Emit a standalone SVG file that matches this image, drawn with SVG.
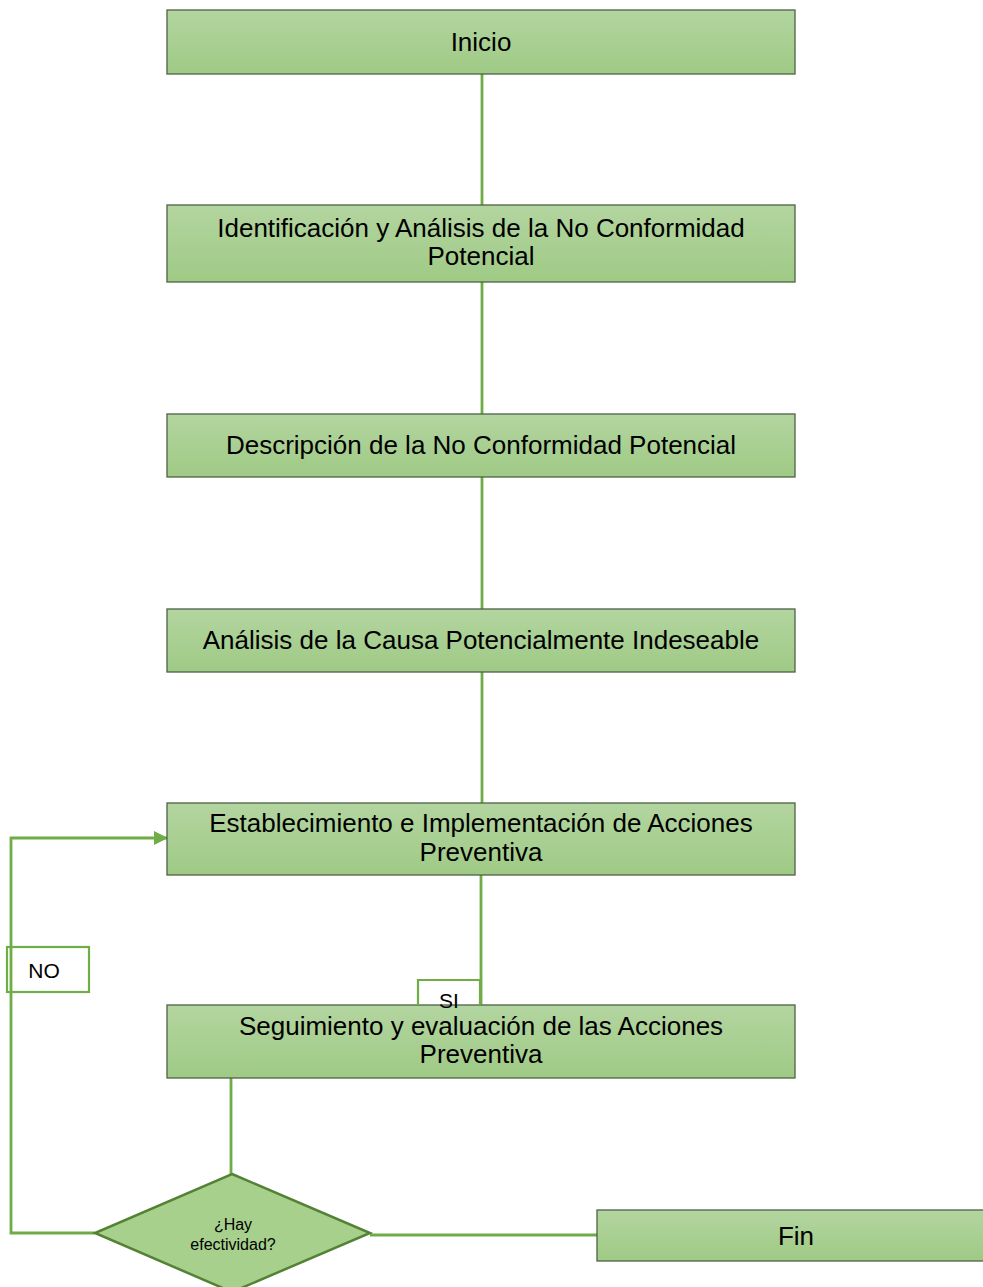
<svg xmlns="http://www.w3.org/2000/svg" width="983" height="1287" viewBox="0 0 983 1287">
  <defs>
    <linearGradient id="boxFill" x1="0" y1="0" x2="0" y2="1">
      <stop offset="0" stop-color="#b3d5a0"/>
      <stop offset="1" stop-color="#9fca85"/>
    </linearGradient>
    <marker id="arrow" markerWidth="14" markerHeight="14" refX="13" refY="7" orient="auto" markerUnits="userSpaceOnUse">
      <path d="M0,0 L14,7 L0,14 z" fill="#70ad47"/>
    </marker>
    <style>
      .box { fill: url(#boxFill); stroke: #4f6145; stroke-width: 1.3; }
      .dec { fill: #a7d08c; stroke: #538135; stroke-width: 2.5; }
      .conn { fill: none; stroke: #6fac46; stroke-width: 2.8; }
      .lbl { fill: none; stroke: #70ad47; stroke-width: 2.2; }
      .t { font-family: "Liberation Sans", Arial, sans-serif; font-size: 26px; fill: #000; text-anchor: middle; }
      .ts { font-family: "Liberation Sans", Arial, sans-serif; font-size: 16px; fill: #000; text-anchor: middle; }
      .tl { font-family: "Liberation Sans", Arial, sans-serif; font-size: 21px; fill: #000; text-anchor: middle; }
    </style>
  </defs>
  <rect width="983" height="1287" fill="#fff"/>

  <!-- connectors -->
  <g id="connectors">
    <line class="conn" x1="482" y1="74" x2="482" y2="205"/>
    <line class="conn" x1="482" y1="282" x2="482" y2="414"/>
    <line class="conn" x1="482" y1="477" x2="482" y2="609"/>
    <line class="conn" x1="482" y1="672" x2="482" y2="803"/>
    <line class="conn" x1="481" y1="875" x2="481" y2="1005"/>
    <line class="conn" x1="231" y1="1078" x2="231" y2="1174"/>
    <polyline class="conn" points="95,1233 11,1233 11,838 167,838" marker-end="url(#arrow)"/>
    <line class="conn" x1="370" y1="1235" x2="597" y2="1235"/>
  </g>

  <g id="node-inicio">
    <rect class="box" x="167" y="10" width="628" height="64"/>
    <text class="t" x="481" y="51">Inicio</text>
  </g>
  <g id="node-identificacion">
    <rect class="box" x="167" y="205" width="628" height="77"/>
    <text class="t" x="481" y="237">Identificación y Análisis de la No Conformidad</text>
    <text class="t" x="481" y="265">Potencial</text>
  </g>
  <g id="node-descripcion">
    <rect class="box" x="167" y="414" width="628" height="63"/>
    <text class="t" x="481" y="454">Descripción de la No Conformidad Potencial</text>
  </g>
  <g id="node-analisis">
    <rect class="box" x="167" y="609" width="628" height="63"/>
    <text class="t" x="481" y="649">Análisis de la Causa Potencialmente Indeseable</text>
  </g>
  <g id="node-establecimiento">
    <rect class="box" x="167" y="803" width="628" height="72"/>
    <text class="t" x="481" y="832">Establecimiento e Implementación de Acciones</text>
    <text class="t" x="481" y="861">Preventiva</text>
  </g>
  <g id="node-seguimiento">
    <rect class="box" x="167" y="1005" width="628" height="73"/>
    <text class="t" x="481" y="1035">Seguimiento y evaluación de las Acciones</text>
    <text class="t" x="481" y="1063">Preventiva</text>
  </g>
  <g id="label-si">
    <polyline class="lbl" points="418,1005 418,980 480,980 480,1005"/>
    <text class="tl" x="449" y="1008">SI</text>
  </g>
  <g id="label-no">
    <rect class="lbl" x="7" y="947" width="82" height="45"/>
    <text class="tl" x="44" y="978">NO</text>
  </g>
  <g id="node-decision">
    <polygon class="dec" points="232,1174 370,1233 232,1292 95,1233"/>
    <text class="ts" x="233" y="1230">¿Hay</text>
    <text class="ts" x="233" y="1250">efectividad?</text>
  </g>
  <g id="node-fin">
    <rect class="box" x="597" y="1210" width="390" height="51"/>
    <text class="t" x="796" y="1245">Fin</text>
  </g>
</svg>
